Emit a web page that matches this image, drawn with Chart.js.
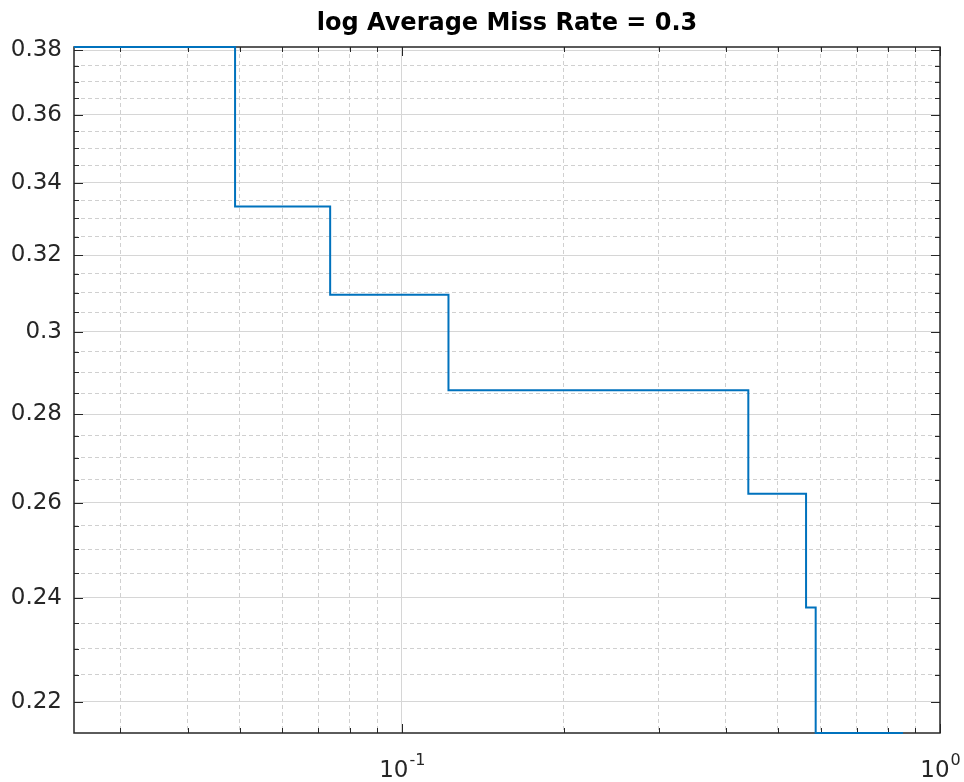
<!DOCTYPE html>
<html lang="en">

<head>
    <meta charset="UTF-8">
    <title>log Average Miss Rate</title>
    <script src="https://cdn.jsdelivr.net/npm/chart.js"></script>
    <style>
        body {
            margin: 0;
            background: #fff;
        }

        .wrap {
            width: 964px;
            height: 782px;
        }
    </style>
</head>

<body>
    <div class="wrap">
        <canvas id="missChart"></canvas>
    </div>

    <script>
        // miss rate curve (false positives per image vs miss rate)
        const fppi = [0.0246, 0.0490, 0.0736, 0.1221, 0.4404, 0.5638, 0.5875, 0.8537];
        const missRate = [0.381, 0.3333, 0.3095, 0.2857, 0.2619, 0.2381, 0.2143, 0.2143];

        const chartTitle = "log Average Miss Rate = 0.3";

        // axis ticks
        const xMajorTicks = [0.1, 1];
        const xTickExponents = ["-1", "0"];
        const xMinorTicks = [0.03, 0.04, 0.05, 0.06, 0.07, 0.08, 0.09, 0.2, 0.3, 0.4, 0.5, 0.6, 0.7, 0.8, 0.9];
        const yMajorTicks = [0.22, 0.24, 0.26, 0.28, 0.3, 0.32, 0.34, 0.36, 0.38];
        const yMinorTicks = [0.225, 0.23, 0.235, 0.245, 0.25, 0.255, 0.265, 0.27, 0.275, 0.285, 0.29, 0.295,
            0.305, 0.31, 0.315, 0.325, 0.33, 0.335, 0.345, 0.35, 0.355, 0.365, 0.37, 0.375];

        const axisColor = "#262626";
        const fontFamily = "'DejaVu Sans', sans-serif";

        function makeTicks(major, minor) {
            const list = major.map(v => ({ value: v, major: true }))
                .concat(minor.map(v => ({ value: v, major: false })));
            return list.sort((a, b) => a.value - b.value);
        }

        // box, inward tick marks, title over the axes and the 10^n labels like matlab
        const matlabAxes = {
            id: "matlabAxes",
            beforeDatasetsDraw(chart) {
                const ctx = chart.ctx;
                const a = chart.chartArea;
                const xs = chart.scales.x;
                const ys = chart.scales.y;
                ctx.save();
                ctx.strokeStyle = axisColor;
                ctx.lineWidth = 1;
                ctx.beginPath();
                xs.ticks.forEach(t => {
                    const px = Math.round(xs.getPixelForValue(t.value)) + 0.5;
                    const len = t.major ? 9 : 5;
                    ctx.moveTo(px, a.bottom);
                    ctx.lineTo(px, a.bottom - len);
                    ctx.moveTo(px, a.top);
                    ctx.lineTo(px, a.top + len);
                });
                ys.ticks.forEach(t => {
                    const py = Math.round(ys.getPixelForValue(t.value)) + 0.5;
                    const len = t.major ? 9 : 5;
                    ctx.moveTo(a.left, py);
                    ctx.lineTo(a.left + len, py);
                    ctx.moveTo(a.right, py);
                    ctx.lineTo(a.right - len, py);
                });
                ctx.stroke();
                ctx.lineWidth = 1.5;
                ctx.strokeRect(a.left, a.top, a.right - a.left, a.bottom - a.top);
                ctx.restore();
            },
            afterDraw(chart) {
                const ctx = chart.ctx;
                const a = chart.chartArea;
                const xs = chart.scales.x;
                ctx.save();

                ctx.fillStyle = "#000";
                ctx.textAlign = "center";
                ctx.textBaseline = "alphabetic";
                ctx.font = "bold 24px " + fontFamily;
                ctx.fillText(chartTitle, (a.left + a.right) / 2, a.top - 17);

                ctx.fillStyle = axisColor;
                ctx.textAlign = "left";
                xMajorTicks.forEach((v, i) => {
                    const px = xs.getPixelForValue(v);
                    ctx.font = "23px " + fontFamily;
                    const wBase = ctx.measureText("10").width;
                    ctx.font = "16px " + fontFamily;
                    const wExp = ctx.measureText(xTickExponents[i]).width;
                    const start = px - (wBase + wExp) / 2;
                    ctx.font = "23px " + fontFamily;
                    ctx.fillText("10", start, a.bottom + 44);
                    ctx.font = "16px " + fontFamily;
                    ctx.fillText(xTickExponents[i], start + wBase + 1, a.bottom + 32);
                });
                ctx.restore();
            }
        };

        const gridColor = c => (c.tick && c.tick.major) ? "#d6d6d6" : "#d0d0d0";
        const gridDash = c => (c.tick && !c.tick.major) ? [4, 3] : [];

        new Chart(document.getElementById("missChart"), {
            type: "scatter",
            data: {
                datasets: [
                    {
                        data: fppi.map((x, i) => ({ x: x, y: missRate[i] })),
                        showLine: true,
                        stepped: "before",
                        borderColor: "#0072BD",
                        borderWidth: 2,
                        pointRadius: 0,
                        fill: false,
                        clip: 4
                    }
                ]
            },
            options: {
                responsive: true,
                maintainAspectRatio: false,
                animation: false,
                layout: {
                    padding: { left: 0, right: 24, top: 47, bottom: 0 }
                },
                plugins: {
                    legend: { display: false },
                    tooltip: { enabled: false },
                    title: { display: false }
                },
                scales: {
                    x: {
                        type: "logarithmic",
                        min: 0.0246,
                        max: 1,
                        bounds: "data",
                        afterBuildTicks: s => { s.ticks = makeTicks(xMajorTicks, xMinorTicks); },
                        afterFit: s => { s.height = 49; },
                        ticks: {
                            autoSkip: false,
                            maxRotation: 0,
                            callback: () => ""
                        },
                        grid: {
                            drawTicks: false,
                            color: gridColor,
                            lineWidth: 1
                        },
                        border: { display: false, dash: gridDash }
                    },
                    y: {
                        type: "logarithmic",
                        min: 0.2143,
                        max: 0.381,
                        bounds: "data",
                        afterBuildTicks: s => { s.ticks = makeTicks(yMajorTicks, yMinorTicks); },
                        afterFit: s => { s.width = 74; },
                        ticks: {
                            autoSkip: false,
                            padding: 12,
                            color: axisColor,
                            font: { family: fontFamily, size: 23 },
                            callback: function (value) {
                                return yMajorTicks.includes(value) ? String(value) : "";
                            }
                        },
                        grid: {
                            drawTicks: false,
                            color: gridColor,
                            lineWidth: 1
                        },
                        border: { display: false, dash: gridDash }
                    }
                }
            },
            plugins: [matlabAxes]
        });
    </script>
</body>

</html>
